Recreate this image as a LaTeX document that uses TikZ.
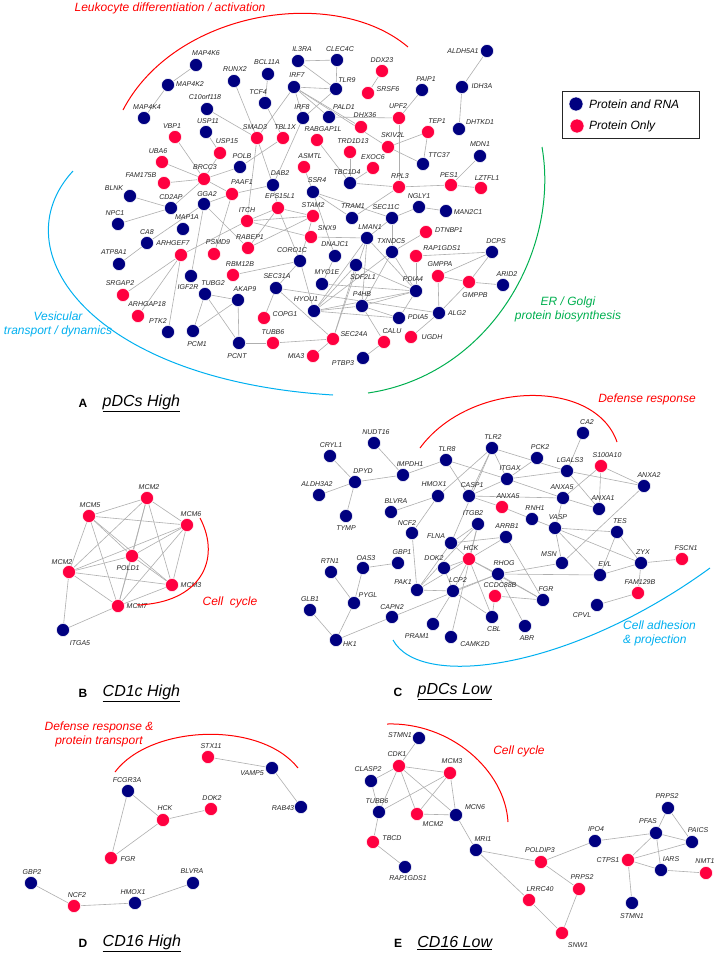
\documentclass[tikz,border=0pt]{standalone}
\usepackage{fontspec}
\setmainfont{Liberation Sans}
\usetikzlibrary{backgrounds}
\definecolor{protrna}{RGB}{0,0,128}
\definecolor{protonly}{RGB}{255,0,64}
\definecolor{linkgray}{RGB}{175,175,175}
\definecolor{arcred}{RGB}{255,0,0}
\definecolor{arcblue}{RGB}{0,176,240}
\definecolor{arcgreen}{RGB}{0,176,80}
\begin{document}
\begin{tikzpicture}[x=1pt, y=-1pt,
    gene/.style={circle, draw=white, line width=0.5pt, minimum size=13pt, inner sep=0pt},
    lbl/.style={font=\fontsize{7}{8}\selectfont\itshape, text=black!85, inner sep=0.5pt},
    link/.style={draw=linkgray, line width=0.6pt},
    arcline/.style={line width=1pt},
    arclbl/.style={font=\fontsize{12}{14}\selectfont\itshape, align=center, inner sep=0pt},
    ttl/.style={font=\fontsize{16}{18}\selectfont\itshape, inner sep=0pt},
    letter/.style={font=\fontsize{12}{14}\selectfont\bfseries, inner sep=0pt}]
  \useasboundingbox (0,0) rectangle (720,959);
  % A  pDCs High
  \foreach \n/\x/\y/\c/\lx/\ly/\t in {
      aMAP4K6/196/65/protrna/206/53/MAP4K6, aMAP4K2/168/85/protrna/190/84/MAP4K2,
      aMAP4K4/144/118/protrna/147/107/MAP4K4, aRUNX2/234/81/protrna/235/69/RUNX2,
      aC10/207/109/protrna/205/97/C10orf118, aUSP11/206/132/protrna/208/121/USP11,
      aVBP1/175/137/protonly/172/126/VBP1, aSMAD3/257/138/protonly/255/127/SMAD3,
      aUSP15/220/153/protonly/227/141/USP15, aPOLB/240/167/protrna/242/156/POLB,
      aUBA6/162/162/protonly/158/151/UBA6, aBRCC3/204/179/protonly/205/167/BRCC3,
      aFAM175B/164/183/protonly/141/175/FAM175B, aPAAF1/232/194/protonly/242/182/PAAF1,
      aBCL11A/268/74/protrna/267/62/BCL11A, aIL3RA/298/61/protrna/302/49/IL3RA,
      aCLEC4C/337/60/protrna/340/49/CLEC4C, aIRF7/294/87/protrna/297/75/IRF7,
      aTLR9/336/89/protrna/347/80/TLR9, aTCF4/265/103/protrna/258/92/TCF4,
      aIRF8/303/118/protrna/302/107/IRF8, aPALD1/329/117/protrna/344/107/PALD1,
      aDDX23/382/71/protonly/382/60/DDX23, aSRSF6/368/93/protonly/388/89/SRSF6,
      aPAIP1/422/90/protrna/426/79/PAIP1, aUPF2/399/118/protonly/398/106/UPF2,
      aDHX36/361/127/protonly/365/115/DHX36, aTBL1X/283/138/protonly/285/127/TBL1X,
      aRABGAP1L/317/140/protonly/323/129/RABGAP1L, aTRD1D13/350/152/protonly/353/141/TRD1D13,
      aSKIV2L/388/147/protonly/393/135/SKIV2L, aTEP1/428/132/protonly/437/121/TEP1,
      aASMTL/304/167/protonly/310/156/ASMTL, aEXOC6/373/168/protonly/373/157/EXOC6,
      aTTC37/423/164/protrna/439/155/TTC37, aTBC1D4/350/183/protrna/347/172/TBC1D4,
      aRPL3/399/187/protonly/400/176/RPL3, aPES1/451/185/protonly/449/175/PES1,
      aLZTFL1/481/188/protonly/487/178/LZTFL1, aDAB2/273/185/protrna/280/173/DAB2,
      aSSR4/313/192/protrna/317/180/SSR4, aALDH5A1/487/51/protrna/463/51/ALDH5A1,
      aIDH3A/462/87/protrna/482/86/IDH3A, aDHTKD1/459/129/protrna/480/122/DHTKD1,
      aMDN1/480/156/protrna/480/144/MDN1, aCD2AP/171/208/protrna/171/197/CD2AP,
      aGGA2/204/204/protrna/207/194/GGA2, aEPS15L1/278/208/protonly/280/196/EPS15L1,
      aSTAM2/313/216/protonly/313/205/STAM2, aTRAM1/352/218/protrna/353/206/TRAM1,
      aSEC11C/392/218/protrna/386/207/SEC11C, aNGLY1/419/207/protrna/419/196/NGLY1,
      aMAN2C1/446/211/protrna/468/212/MAN2C1, aITCH/247/221/protonly/247/210/ITCH,
      aMAP1A/183/229/protrna/187/217/MAP1A, aSNX9/311/237/protonly/327/228/SNX9,
      aLMAN1/367/238/protrna/370/227/LMAN1, aCA8/147/243/protrna/147/232/CA8,
      aDTNBP1/426/232/protonly/449/230/DTNBP1, aRABEP1/248/248/protonly/250/237/RABEP1,
      aARHGEF7/181/255/protonly/173/243/ARHGEF7, aPSMD9/214/254/protonly/218/242/PSMD9,
      aTXNDC5/392/252/protrna/391/241/TXNDC5, aRAP1GDS1/416/256/protonly/442/248/RAP1GDS1,
      aDCPS/492/252/protrna/496/241/DCPS, aCORO1C/300/261/protrna/292/250/CORO1C,
      aDNAJC1/335/256/protrna/335/244/DNAJC1, aSDF2L1/356/265/protrna/363/277/SDF2L1,
      aGMPPA/438/276/protonly/440/264/GMPPA, aGMPPB/469/282/protonly/475/295/GMPPB,
      aARID2/503/285/protrna/507/274/ARID2, aRBM12B/233/275/protonly/240/264/RBM12B,
      aMYO1E/322/284/protrna/327/272/MYO1E, aIGF2R/191/276/protrna/188/287/IGF2R,
      aSEC31A/276/288/protrna/277/276/SEC31A, aPDIA4/416/291/protrna/413/279/PDIA4,
      aTUBG2/205/294/protrna/213/283/TUBG2, aAKAP9/238/300/protrna/245/289/AKAP9,
      aHYOU1/314/311/protrna/306/299/HYOU1, aP4HB/362/306/protrna/362/294/P4HB,
      aPDIA5/399/318/protrna/418/317/PDIA5, aALG2/439/313/protrna/457/313/ALG2,
      aCOPG1/264/318/protonly/285/314/COPG1, aSRGAP2/123/295/protonly/120/283/SRGAP2,
      aARHGAP18/138/316/protonly/147/304/ARHGAP18, aPTK2/168/332/protrna/158/321/PTK2,
      aPCM1/193/331/protrna/197/344/PCM1, aPCNT/239/343/protrna/237/356/PCNT,
      aTUBB6/273/343/protonly/273/332/TUBB6, aSEC24A/333/339/protonly/354/334/SEC24A,
      aCALU/384/342/protonly/392/331/CALU, aUGDH/411/337/protonly/432/337/UGDH,
      aMIA3/313/356/protonly/296/356/MIA3, aPTBP3/363/358/protrna/343/363/PTBP3,
      aBLNK/130/196/protrna/114/188/BLNK, aNPC1/118/224/protrna/115/213/NPC1,
      aATP8A1/119/264/protrna/114/252/ATP8A1}
    {\node[gene, fill=\c] (\n) at (\x,\y) {};
     \node[lbl] (\n-t) at (\lx,\ly) {\t};}
  % B  CD1c High
  \foreach \n/\x/\y/\c/\lx/\ly/\t in {
      bMCM2a/147/498/protonly/149/487/MCM2, bMCM5/89/516/protonly/90/505/MCM5,
      bMCM6/187/525/protonly/191/514/MCM6, bPOLD1/132/556/protonly/128/568/POLD1,
      bMCM2b/69/572/protonly/62/562/MCM2, bMCM3/172/585/protonly/191/585/MCM3,
      bMCM7/118/606/protonly/137/606/MCM7, bITGA5/63/630/protrna/80/643/ITGA5}
    {\node[gene, fill=\c] (\n) at (\x,\y) {};
     \node[lbl] (\n-t) at (\lx,\ly) {\t};}
  % C  pDCs Low
  \foreach \n/\x/\y/\c/\lx/\ly/\t in {
      cNUDT16/374/443/protrna/376/432/NUDT16, cCRYL1/330/456/protrna/331/445/CRYL1,
      cTLR8/446/460/protrna/447/449/TLR8, cTLR2/492/448/protrna/493/437/TLR2,
      cDPYD/355/482/protrna/363/471/DPYD, cIMPDH1/403/475/protrna/410/464/IMPDH1,
      cALDH3A2/319/495/protrna/317/484/ALDH3A2, cHMOX1/438/496/protrna/434/484/HMOX1,
      cCASP1/469/496/protrna/472/485/CASP1, cITGAX/507/479/protrna/510/468/ITGAX,
      cANXA5r/502/507/protonly/508/496/ANXA5, cBLVRA/391/512/protrna/396/501/BLVRA,
      cTYMP/346/516/protrna/346/528/TYMP, cITGB2/478/524/protrna/473/513/ITGB2,
      cNCF2/412/533/protrna/407/523/NCF2, cARRB1/506/537/protrna/507/526/ARRB1,
      cFLNA/451/543/protrna/436/536/FLNA, cHCK/469/559/protonly/471/548/HCK,
      cDOK2/444/568/protrna/434/558/DOK2, cGBP1/398/563/protrna/402/552/GBP1,
      cOAS3/363/568/protrna/366/558/OAS3, cRTN1/331/572/protrna/330/561/RTN1,
      cRHOG/498/574/protrna/504/563/RHOG, cPAK1/417/590/protrna/403/582/PAK1,
      cLCP2/453/591/protrna/458/580/LCP2, cCCDC88B/495/596/protonly/500/585/CCDC88B,
      cPYGL/354/603/protrna/368/595/PYGL, cGLB1/310/610/protrna/310/599/GLB1,
      cCAPN2/392/617/protrna/392/607/CAPN2, cCBL/492/617/protrna/494/629/CBL,
      cPRAM1/433/624/protrna/417/636/PRAM1, cHK1/336/640/protrna/350/644/HK1,
      cCAMK2D/451/637/protrna/475/644/CAMK2D, cCA2/583/433/protrna/587/422/CA2,
      cPCK2/537/458/protrna/540/447/PCK2, cLGALS3/567/471/protrna/570/460/LGALS3,
      cS100A10/601/466/protonly/607/455/S100A10, cANXA2/644/486/protrna/649/475/ANXA2,
      cANXA5b/563/498/protrna/562/487/ANXA5, cANXA1/599/509/protrna/603/498/ANXA1,
      cRNH1/532/519/protrna/535/508/RNH1, cVASP/555/528/protrna/558/517/VASP,
      cTES/617/532/protrna/620/521/TES, cZYX/641/563/protrna/643/552/ZYX,
      cFSCN1/682/559/protonly/686/548/FSCN1, cMSN/562/563/protrna/549/554/MSN,
      cEVL/600/575/protrna/605/564/EVL, cFAM129B/638/593/protonly/640/582/FAM129B,
      cFGR/543/600/protrna/546/589/FGR, cCPVL/597/605/protrna/582/615/CPVL,
      cABR/525/626/protrna/527/638/ABR}
    {\node[gene, fill=\c] (\n) at (\x,\y) {};
     \node[lbl] (\n-t) at (\lx,\ly) {\t};}
  % D  CD16 High
  \foreach \n/\x/\y/\c/\lx/\ly/\t in {
      dSTX11/208/757/protonly/211/746/STX11, dVAMP5/272/768/protrna/252/773/VAMP5,
      dRAB43/301/807/protrna/283/808/RAB43, dFCGR3A/128/791/protrna/127/780/FCGR3A,
      dHCK/163/820/protonly/165/808/HCK, dDOK2/211/809/protonly/212/798/DOK2,
      dFGR/111/858/protonly/128/859/FGR, dGBP2/31/883/protrna/32/872/GBP2,
      dNCF2/74/906/protonly/77/895/NCF2, dHMOX1/135/903/protrna/133/892/HMOX1,
      dBLVRA/193/883/protrna/192/871/BLVRA}
    {\node[gene, fill=\c] (\n) at (\x,\y) {};
     \node[lbl] (\n-t) at (\lx,\ly) {\t};}
  % E  CD16 Low
  \foreach \n/\x/\y/\c/\lx/\ly/\t in {
      eSTMN1a/419/738/protrna/400/735/STMN1, eCDK1/399/766/protonly/397/754/CDK1,
      eMCM3/450/773/protonly/452/761/MCM3, eCLASP2/371/781/protrna/368/769/CLASP2,
      eTUBB6/379/812/protrna/377/801/TUBB6, eMCM2/417/814/protonly/433/824/MCM2,
      eMCN6/456/815/protrna/475/807/MCN6, eTBCD/373/842/protonly/392/838/TBCD,
      eRAP1GDS1/405/867/protrna/408/878/RAP1GDS1, eMRI1/476/850/protrna/483/839/MRI1,
      ePOLDIP3/541/862/protonly/540/850/POLDIP3, eLRRC40/529/900/protonly/540/889/LRRC40,
      ePRPS2a/668/808/protrna/667/796/PRPS2, ePFAS/656/833/protrna/648/821/PFAS,
      ePAICS/692/842/protrna/698/830/PAICS, eIPO4/595/841/protrna/596/829/IPO4,
      eCTPS1/628/860/protonly/608/860/CTPS1, eIARS/661/870/protrna/671/859/IARS,
      eNMT1/706/873/protonly/705/861/NMT1, ePRPS2b/579/889/protonly/582/877/PRPS2,
      eSTMN1b/632/903/protrna/632/916/STMN1, eSNW1/562/933/protonly/578/945/SNW1}
    {\node[gene, fill=\c] (\n) at (\x,\y) {};
     \node[lbl] (\n-t) at (\lx,\ly) {\t};}
  \begin{pgfonlayer}{background}
    \fill[white] (0,0) rectangle (720,959);
    \foreach \u/\v in {
        aMAP4K6/aMAP4K2, aMAP4K2/aMAP4K4, aRUNX2/aSMAD3, aC10/aSMAD3, aUSP11/aUSP15,
        aUSP15/aBRCC3, aVBP1/aBRCC3, aUBA6/aBRCC3, aFAM175B/aBRCC3, aBRCC3/aPOLB,
        aPOLB/aTBL1X, aBRCC3/aCD2AP, aBRCC3/aPAAF1, aBCL11A/aTCF4, aTCF4/aTBL1X,
        aIL3RA/aCLEC4C, aIL3RA/aTLR9, aCLEC4C/aTLR9, aIRF7/aTLR9, aIRF7/aIRF8,
        aIRF7/aPALD1, aIRF7/aDHX36, aIRF7/aSKIV2L, aIRF7/aSMAD3, aTLR9/aIRF8,
        aIRF8/aDAB2, aPALD1/aUPF2, aDDX23/aSRSF6, aPAIP1/aUPF2, aUPF2/aRPL3,
        aSKIV2L/aTEP1, aSKIV2L/aTTC37, aTEP1/aTTC37, aRABGAP1L/aTBC1D4,
        aTRD1D13/aTBC1D4, aEXOC6/aTBC1D4, aTBC1D4/aRPL3, aRPL3/aPES1, aPES1/aMDN1,
        aPES1/aLZTFL1, aALDH5A1/aIDH3A, aIDH3A/aDHTKD1, aSMAD3/aITCH, aSMAD3/aDAB2,
        aASMTL/aSSR4, aSSR4/aTRAM1, aSSR4/aSEC11C, aSSR4/aDNAJC1, aRPL3/aTRAM1,
        aSEC11C/aNGLY1, aNGLY1/aMAN2C1, aSEC11C/aTXNDC5, aSEC11C/aLMAN1,
        aLMAN1/aSNX9, aLMAN1/aHYOU1, aLMAN1/aP4HB, aLMAN1/aPDIA4, aLMAN1/aSEC24A,
        aTXNDC5/aDTNBP1, aTXNDC5/aPDIA4, aTXNDC5/aP4HB, aTXNDC5/aHYOU1,
        aRAP1GDS1/aPDIA4, aRAP1GDS1/aDCPS, aDCPS/aGMPPA, aDCPS/aGMPPB,
        aGMPPA/aGMPPB, aGMPPB/aARID2, aGMPPA/aALG2, aGMPPB/aALG2, aALG2/aUGDH,
        aPDIA4/aP4HB, aPDIA4/aHYOU1, aPDIA4/aSDF2L1, aPDIA4/aMYO1E, aPDIA4/aPDIA5,
        aP4HB/aHYOU1, aP4HB/aPDIA5, aP4HB/aCALU, aHYOU1/aPDIA5, aHYOU1/aSDF2L1,
        aCALU/aPTBP3, aSEC24A/aMIA3, aSEC24A/aTUBB6, aSEC24A/aSEC31A,
        aSEC24A/aSDF2L1, aSEC31A/aCOPG1, aSEC31A/aCORO1C, aSEC31A/aALG2,
        aCORO1C/aSTAM2, aCORO1C/aRBM12B, aCORO1C/aEPS15L1, aCORO1C/aHYOU1,
        aMYO1E/aDNAJC1, aEPS15L1/aSTAM2, aEPS15L1/aITCH, aEPS15L1/aRABEP1,
        aEPS15L1/aDAB2, aITCH/aSTAM2, aITCH/aSNX9, aRABEP1/aGGA2, aRABEP1/aSTAM2,
        aPAAF1/aGGA2, aPAAF1/aDAB2, aPAAF1/aPSMD9, aGGA2/aIGF2R, aGGA2/aCA8,
        aBLNK/aCD2AP, aNPC1/aCD2AP, aATP8A1/aCA8, aARHGEF7/aSRGAP2,
        aARHGEF7/aARHGAP18, aARHGEF7/aPTK2, aARHGEF7/aITCH, aTUBG2/aAKAP9,
        aTUBG2/aPCM1, aTUBG2/aPCNT, aAKAP9/aPCM1, aAKAP9/aPCNT, aPCNT/aTUBB6,
        bMCM2a/bMCM5, bMCM2a/bMCM6, bMCM2a/bPOLD1, bMCM2a/bMCM2b, bMCM2a/bMCM3,
        bMCM2a/bMCM7, bMCM5/bMCM6, bMCM5/bPOLD1, bMCM5/bMCM2b, bMCM5/bMCM3,
        bMCM5/bMCM7, bMCM6/bPOLD1, bMCM6/bMCM2b, bMCM6/bMCM3, bMCM6/bMCM7,
        bPOLD1/bMCM2b, bPOLD1/bMCM3, bPOLD1/bMCM7, bMCM2b/bMCM3, bMCM2b/bMCM7,
        bMCM3/bMCM7, bITGA5/bMCM2b, bITGA5/bMCM7,
        cCRYL1/cDPYD, cALDH3A2/cDPYD, cDPYD/cTYMP, cDPYD/cIMPDH1, cNUDT16/cIMPDH1,
        cIMPDH1/cTLR8, cTLR8/cCASP1, cTLR8/cITGAX, cTLR2/cITGAX, cTLR2/cCASP1,
        cTLR2/cLGALS3, cTLR2/cFLNA, cTLR2/cHMOX1, cPCK2/cITGAX, cITGAX/cLGALS3,
        cITGAX/cANXA5b, cITGAX/cCASP1, cCA2/cLGALS3, cLGALS3/cANXA2,
        cLGALS3/cANXA1, cS100A10/cANXA2, cS100A10/cANXA1, cS100A10/cANXA5b,
        cANXA5b/cVASP, cANXA5b/cANXA1, cANXA5b/cCASP1, cCASP1/cANXA5r,
        cANXA5r/cRNH1, cRNH1/cVASP, cVASP/cTES, cVASP/cMSN, cVASP/cEVL, cVASP/cZYX,
        cTES/cEVL, cTES/cZYX, cZYX/cFSCN1, cZYX/cEVL, cZYX/cFAM129B,
        cFAM129B/cCPVL, cANXA2/cMSN, cMSN/cRHOG, cEVL/cRHOG, cARRB1/cFGR,
        cARRB1/cHCK, cARRB1/cFLNA, cFGR/cCCDC88B, cFGR/cRHOG, cFGR/cHCK,
        cCBL/cHCK, cCBL/cLCP2, cCBL/cCCDC88B, cABR/cRHOG, cHCK/cITGB2, cHCK/cFLNA,
        cHCK/cLCP2, cHCK/cPAK1, cHCK/cDOK2, cHCK/cRHOG, cITGB2/cFLNA, cITGB2/cPAK1,
        cFLNA/cPAK1, cNCF2/cHMOX1, cNCF2/cPAK1, cHMOX1/cBLVRA, cDOK2/cLCP2,
        cLCP2/cPAK1, cLCP2/cPRAM1, cLCP2/cRHOG, cCAPN2/cRHOG, cCAPN2/cHK1,
        cHK1/cPYGL, cHK1/cGLB1, cPYGL/cOAS3, cPYGL/cRTN1, cOAS3/cGBP1,
        cCAMK2D/cITGB2,
        dSTX11/dVAMP5, dVAMP5/dRAB43, dFCGR3A/dHCK, dFCGR3A/dFGR, dHCK/dDOK2,
        dHCK/dFGR, dGBP2/dNCF2, dNCF2/dHMOX1, dHMOX1/dBLVRA,
        eSTMN1a/eCDK1, eCDK1/eCLASP2, eCDK1/eTUBB6, eCDK1/eMCM3, eCDK1/eMCM2,
        eCDK1/eMCN6, eMCM3/eMCM2, eMCM3/eMCN6, eMCM3/eTUBB6, eMCM2/eMCN6,
        eCLASP2/eTUBB6, eTUBB6/eTBCD, eTBCD/eRAP1GDS1, eMCN6/eMRI1,
        eMRI1/ePOLDIP3, eMRI1/eLRRC40, eLRRC40/eSNW1, ePOLDIP3/eIPO4,
        ePOLDIP3/ePRPS2b, ePRPS2b/eSNW1, eIPO4/ePFAS, ePFAS/ePRPS2a,
        ePFAS/ePAICS, ePRPS2a/ePAICS, ePFAS/eCTPS1, ePFAS/eIARS, eCTPS1/ePAICS,
        eCTPS1/eIARS, eIARS/eNMT1, eCTPS1/eSTMN1b}
      \draw[link] (\u) -- (\v);
  \end{pgfonlayer}
  % grouping arcs
  \draw[arcline, arcred] (123,110) .. controls (175,10) and (335,-15) .. (408,47);
  \draw[arcline, arcblue] (73,171) .. controls (0,250) and (90,380) .. (333,395);
  \draw[arcline, arcgreen] (542,147) .. controls (560,250) and (490,375) .. (368,393);
  \draw[arcline, arcred] (200,518) .. controls (222,560) and (200,603) .. (137,605);
  \draw[arcline, arcred] (420,448) .. controls (470,380) and (595,378) .. (617,442);
  \draw[arcline, arcblue] (393,640) .. controls (420,690) and (570,670) .. (710,568);
  \draw[arcline, arcred] (115,772) .. controls (150,725) and (260,720) .. (298,768);
  \draw[arcline, arcred] (387,724) .. controls (450,722) and (505,770) .. (508,822);
  \node[arclbl, text=arcred] (grpleuko) at (170,8) {Leukocyte differentiation / activation};
  \node[arclbl, text=arcblue] (grpvesic) at (58,324) {Vesicular\\transport / dynamics};
  \node[arclbl, text=arcgreen] (grper) at (568,309) {ER / Golgi\\protein biosynthesis};
  \node[arclbl, text=arcred] (grpcycb) at (230,602) {Cell\ \ cycle};
  \node[arclbl, text=arcred] (grpdef) at (647,399) {Defense response};
  \node[arclbl, text=arcblue, align=left, anchor=west] (grpadh) at (623,633) {Cell adhesion\\\& projection};
  \node[arclbl, text=arcred] (grpdeft) at (99,734) {Defense response \&\\protein transport};
  \node[arclbl, text=arcred] (grpcyce) at (519,751) {Cell cycle};
  % legend
  \draw[line width=0.9pt, black!85] (562,91) rectangle (699,138);
  \node[gene, fill=protrna, minimum size=14pt] (keyrna) at (576,104) {};
  \node[gene, fill=protonly, minimum size=14pt] (keyonly) at (577,126) {};
  \node[arclbl, anchor=west] (keyrnatxt) at (589,104) {Protein and RNA};
  \node[arclbl, anchor=west] (keyonlytxt) at (589,126) {Protein Only};
  % panel titles
  \foreach \p/\x/\y/\t in {A/83/403/pDCs High, B/83/693/CD1c High,
      C/398/692/pDCs Low, D/83/943/CD16 High, E/398/943/CD16 Low} {
    \node[letter] (let\p) at (\x,\y) {\p};
    \node[ttl, anchor=west] (ttl\p) at ([xshift=15pt]let\p.east) {\underline{\t}};
  }
\end{tikzpicture}
\end{document}
